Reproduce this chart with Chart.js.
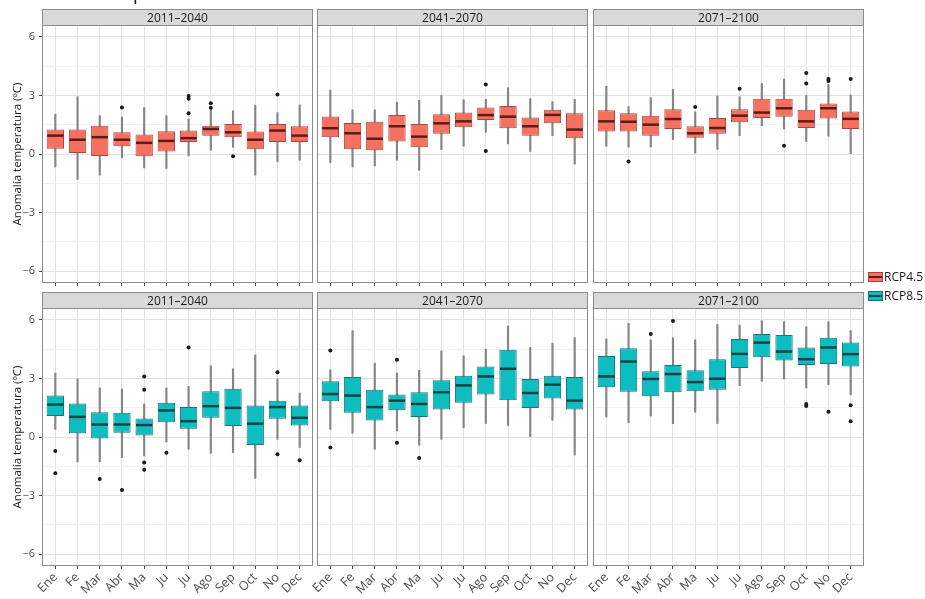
<!DOCTYPE html>
<html>
<head>
<meta charset="utf-8">
<script src="https://cdn.jsdelivr.net/npm/chart.js@4.4.1/dist/chart.umd.min.js"></script>
<style>
  body { margin: 0; width: 925px; height: 599px; overflow: hidden; position: relative; background: #fff; font-family: 'Open Sans', sans-serif; }
  canvas { position: absolute; }
  .strip { position: absolute; box-sizing: border-box; background: #d9d9d9; border: 1px solid #8c8c8c; border-bottom: none;
           color: #1a1a1a; font-size: 12px; line-height: 15px; text-align: center; }
  .ytitle { position: absolute; width: 200px; margin-left: -100px; text-align: center; font-size: 11.5px; color: #1a1a1a;
            transform: rotate(-90deg); white-space: nowrap; line-height: 14px; margin-top: -7px; }
  .key { position: absolute; left: 868px; width: 15px; height: 10px; box-sizing: border-box; border: 1px solid; }
  .key i { position: absolute; left: 0; right: 0; top: 3px; height: 2px; }
  .keytxt { position: absolute; left: 884px; font-size: 12px; color: #1a1a1a; line-height: 14px; }
  .cut { position: absolute; left: 133px; top: -16px; font-size: 18px; line-height: 18px; color: #000; }
</style>
</head>
<body>
<div class="cut">p</div>
<script>
// ============================================================
// Data: [lower whisker, Q1, median, Q3, upper whisker]
// ============================================================
const MONTHS = ['Ene', 'Fe', 'Mar', 'Abr', 'Ma', 'Ju', 'Ju', 'Ago', 'Sep', 'Oct', 'No', 'Dec'];
const PERIODS = ['2011–2040', '2041–2070', '2071–2100'];
const SCENARIOS = ['RCP4.5', 'RCP8.5'];
const Y_TICKS = [-6, -3, 0, 3, 6];
const Y_LABELS = ['−6', '−3', '0', '3', '6'];
const Y_MINOR = [-4.5, -1.5, 1.5, 4.5];

const RCP45_2011 = [
  [-0.66, 0.27, 0.94, 1.25, 2.04], [-1.30, 0.05, 0.73, 1.25, 2.93], [-1.08, -0.10, 0.86, 1.45, 1.96],
  [-0.19, 0.40, 0.73, 1.11, 1.90], [-0.71, -0.12, 0.57, 1.00, 2.38], [-0.74, 0.13, 0.67, 1.16, 1.96],
  [-0.10, 0.61, 0.81, 1.20, 1.79], [0.19, 0.94, 1.28, 1.45, 2.29], [0.35, 0.86, 1.11, 1.53, 2.21],
  [-1.08, 0.24, 0.73, 1.15, 2.50], [-0.40, 0.61, 1.20, 1.53, 2.12], [-0.32, 0.61, 0.94, 1.42, 2.51],
];
const RCP45_2011_OUT = [[3, 2.38], [6, 2.97], [6, 2.83], [6, 2.09], [7, 2.60], [7, 2.36], [8, -0.12], [10, 3.05]];

const RCP45_2041 = [
  [-0.44, 0.86, 1.32, 1.92, 3.27], [-0.66, 0.24, 1.06, 1.59, 2.26], [-0.61, 0.19, 0.78, 1.65, 2.26],
  [-0.32, 0.64, 1.42, 2.00, 2.66], [-0.83, 0.35, 0.89, 1.53, 2.75], [0.22, 1.03, 1.57, 2.04, 3.00],
  [0.40, 1.37, 1.67, 2.12, 2.77], [1.11, 1.74, 1.99, 2.38, 2.80], [0.52, 1.32, 1.91, 2.46, 3.39],
  [0.13, 0.94, 1.42, 1.87, 2.83], [0.94, 1.57, 2.00, 2.26, 2.68], [-0.52, 0.81, 1.25, 2.09, 2.80],
];
const RCP45_2041_OUT = [[7, 3.56], [7, 0.15]];

const RCP45_2071 = [
  [0.40, 1.15, 1.67, 2.24, 3.47], [0.35, 1.15, 1.65, 2.09, 2.43], [0.35, 0.94, 1.50, 1.96, 2.88],
  [0.74, 1.28, 1.79, 2.29, 3.31], [0.05, 0.83, 1.06, 1.42, 2.16], [0.24, 1.03, 1.33, 1.84, 2.97],
  [0.94, 1.62, 1.96, 2.29, 2.93], [1.45, 1.84, 2.12, 2.83, 3.61], [1.28, 1.91, 2.34, 2.83, 3.84],
  [0.64, 1.33, 1.67, 2.26, 3.00], [0.91, 1.82, 2.34, 2.58, 3.56], [0.02, 1.28, 1.80, 2.18, 3.02],
];
const RCP45_2071_OUT = [[1, -0.39], [4, 2.41], [6, 3.34], [8, 0.42], [9, 4.15], [9, 3.61], [10, 3.84], [10, 3.73], [11, 3.84]];

const RCP85_2011 = [
  [0.39, 1.07, 1.66, 2.12, 3.27], [-1.27, 0.19, 1.03, 1.71, 2.97], [-1.27, -0.08, 0.64, 1.27, 2.51],
  [-1.05, 0.22, 0.64, 1.24, 2.46], [-0.97, 0.08, 0.61, 0.95, 1.69], [-0.25, 0.76, 1.36, 1.75, 2.51],
  [-0.63, 0.42, 0.81, 1.53, 2.59], [-0.83, 0.98, 1.58, 2.34, 3.64], [-0.80, 0.56, 1.49, 2.47, 3.49],
  [-2.12, -0.41, 0.68, 1.61, 4.20], [-0.12, 0.93, 1.53, 1.86, 2.97], [-0.54, 0.59, 0.98, 1.61, 2.25],
];
const RCP85_2011_OUT = [[0, -0.71], [0, -1.86], [2, -2.15], [3, -2.71], [4, 3.10], [4, 2.42], [4, -1.31], [4, -1.68],
  [5, -0.80], [6, 4.58], [10, 3.31], [10, -0.88], [11, -1.19]];

const RCP85_2041 = [
  [0.39, 1.83, 2.20, 2.85, 3.44], [0.19, 1.24, 2.12, 3.07, 5.44], [-0.63, 0.85, 1.53, 2.42, 3.78],
  [0.31, 1.37, 1.86, 2.17, 3.27], [-0.42, 1.02, 1.69, 2.29, 3.41], [-0.12, 1.41, 2.29, 2.90, 4.41],
  [0.47, 1.75, 2.64, 3.14, 4.15], [0.69, 2.17, 3.10, 3.61, 4.49], [0.59, 1.88, 3.49, 4.46, 5.68],
  [0.02, 1.49, 2.25, 2.97, 4.58], [0.86, 1.97, 2.68, 3.14, 4.80], [-0.92, 1.41, 1.86, 3.07, 5.08],
];
const RCP85_2041_OUT = [[0, 4.42], [0, -0.54], [3, 3.95], [3, -0.29], [4, -1.08]];

const RCP85_2071 = [
  [1.02, 2.54, 3.10, 4.15, 5.02], [0.73, 2.31, 3.86, 4.54, 5.81], [1.07, 2.08, 2.97, 3.36, 4.97],
  [0.68, 2.29, 3.22, 3.69, 5.08], [1.27, 2.34, 2.81, 3.41, 4.97], [0.69, 2.42, 2.98, 3.98, 5.76],
  [2.63, 3.53, 4.25, 5.02, 5.73], [2.85, 4.08, 4.83, 5.27, 5.95], [2.97, 3.92, 4.37, 5.22, 5.90],
  [2.51, 3.69, 3.98, 4.58, 5.64], [2.68, 3.73, 4.58, 5.08, 5.90], [2.17, 3.61, 4.24, 4.83, 5.44],
];
const RCP85_2071_OUT = [[2, 5.27], [3, 5.93], [9, 1.69], [9, 1.58], [10, 1.29], [11, 1.63], [11, 0.81]];

const PANELS = [
  { row: 0, col: 0, scen: 0, stats: RCP45_2011, out: RCP45_2011_OUT },
  { row: 0, col: 1, scen: 0, stats: RCP45_2041, out: RCP45_2041_OUT },
  { row: 0, col: 2, scen: 0, stats: RCP45_2071, out: RCP45_2071_OUT },
  { row: 1, col: 0, scen: 1, stats: RCP85_2011, out: RCP85_2011_OUT },
  { row: 1, col: 1, scen: 1, stats: RCP85_2041, out: RCP85_2041_OUT },
  { row: 1, col: 2, scen: 1, stats: RCP85_2071, out: RCP85_2071_OUT },
];

// ============================================================
// Look & layout
// ============================================================
const FILL   = ['#F6705F', '#0DBDC0'];
const EDGE   = ['#A8463E', '#17777A'];
const MEDIAN = ['#5E1C16', '#0D4546'];
const WHISKER = '#858585';
const GRID_MAJOR = '#e3e3e3';
const GRID_MINOR = '#f2f2f2';
const TEXT_GREY = '#4d4d4d';

const COL_X = [42, 317, 593];
const ROW_Y = [25, 308];
const PLOT_W = 271, PLOT_H = 258;
const AXIS_W = 42, PAD_TOP = 14, PAD_RIGHT = 10;

Chart.defaults.font.family = "'Open Sans', sans-serif";
Chart.defaults.animation = false;

// medians + panel frame, drawn with the chart's own scales
function boxExtras(p) {
  return {
    id: 'boxExtras',
    afterDatasetsDraw(chart) {
      const ctx = chart.ctx;
      const y = chart.scales.y;
      const meta = chart.getDatasetMeta(1);
      ctx.save();
      ctx.strokeStyle = MEDIAN[p.scen];
      ctx.lineWidth = 2.5;
      meta.data.forEach((el, i) => {
        const py = y.getPixelForValue(p.stats[i][2]);
        ctx.beginPath();
        ctx.moveTo(el.x - el.width / 2 + 0.5, py);
        ctx.lineTo(el.x + el.width / 2 - 0.5, py);
        ctx.stroke();
      });
      ctx.restore();
    },
    afterDraw(chart) {
      const a = chart.chartArea, ctx = chart.ctx;
      ctx.save();
      ctx.strokeStyle = '#8c8c8c';
      ctx.lineWidth = 1;
      ctx.strokeRect(a.left + 0.5, a.top + 0.5, a.right - a.left - 1, a.bottom - a.top - 1);
      ctx.restore();
    },
  };
}

function renderPanel(p) {
  const bottomRow = p.row === 1;
  const firstCol = p.col === 0;
  const xh = bottomRow ? 46 : 12;

  const cv = document.createElement('canvas');
  cv.width = AXIS_W + PLOT_W + PAD_RIGHT;
  cv.height = PAD_TOP + PLOT_H + xh;
  cv.style.width = cv.width + 'px';
  cv.style.height = cv.height + 'px';
  cv.style.left = (COL_X[p.col] - AXIS_W) + 'px';
  cv.style.top = (ROW_Y[p.row] - PAD_TOP) + 'px';
  document.body.appendChild(cv);

  const strip = document.createElement('div');
  strip.className = 'strip';
  strip.style.left = COL_X[p.col] + 'px';
  strip.style.top = (ROW_Y[p.row] - 16) + 'px';
  strip.style.width = PLOT_W + 'px';
  strip.style.height = '16px';
  strip.textContent = PERIODS[p.col];
  document.body.appendChild(strip);

  new Chart(cv, {
    type: 'bar',
    data: {
      datasets: [
        {
          type: 'scatter',
          order: 1,
          data: p.out.map(o => ({ x: o[0], y: o[1] })),
          pointRadius: 2,
          pointBackgroundColor: '#1a1a1a',
          pointBorderWidth: 0,
        },
        {
          order: 2,
          grouped: false,
          data: p.stats.map((s, i) => ({ x: i, y: [s[1], s[3]] })),
          backgroundColor: FILL[p.scen],
          borderColor: EDGE[p.scen],
          borderWidth: 1,
          borderSkipped: false,
          barPercentage: 0.78,
          categoryPercentage: 1,
        },
        {
          order: 3,
          grouped: false,
          data: p.stats.map((s, i) => ({ x: i, y: [s[0], s[4]] })),
          backgroundColor: WHISKER,
          barThickness: 1.5,
        },
      ],
    },
    options: {
      responsive: false,
      maintainAspectRatio: false,
      events: [],
      layout: { padding: { top: PAD_TOP, right: PAD_RIGHT, left: 0, bottom: 0 } },
      plugins: { legend: { display: false }, tooltip: { enabled: false } },
      scales: {
        x: {
          type: 'linear',
          offset: false,
          min: -0.6,
          max: MONTHS.length - 0.4,
          afterBuildTicks: s => { s.ticks = MONTHS.map((_, i) => ({ value: i })); },
          afterFit: s => { s.height = xh; },
          border: { display: false },
          grid: { offset: false, color: GRID_MAJOR, tickColor: TEXT_GREY, tickLength: 3 },
          ticks: {
            display: bottomRow,
            autoSkip: false,
            minRotation: 45,
            maxRotation: 45,
            padding: 1,
            color: TEXT_GREY,
            font: { size: 12.5 },
            callback: v => MONTHS[v],
          },
        },
        y: {
          min: -6.6,
          max: 6.6,
          afterBuildTicks: s => {
            s.ticks = [...Y_TICKS, ...Y_MINOR].sort((a, b) => a - b).map(v => ({ value: v }));
          },
          afterFit: s => { s.width = AXIS_W; },
          border: { display: false },
          grid: {
            color: c => Y_TICKS.includes(c.tick.value) ? GRID_MAJOR : GRID_MINOR,
            tickColor: c => (firstCol && Y_TICKS.includes(c.tick.value)) ? TEXT_GREY : 'rgba(0,0,0,0)',
            tickLength: 3,
          },
          ticks: {
            display: firstCol,
            padding: 4,
            color: TEXT_GREY,
            font: { size: 11 },
            callback: v => { const k = Y_TICKS.indexOf(v); return k < 0 ? '' : Y_LABELS[k]; },
          },
        },
      },
    },
    plugins: [boxExtras(p)],
  });
}

PANELS.forEach(renderPanel);

// y axis titles
ROW_Y.forEach(y0 => {
  const t = document.createElement('div');
  t.className = 'ytitle';
  t.style.left = '17px';
  t.style.top = (y0 + PLOT_H / 2) + 'px';
  t.textContent = 'Anomalía temperatura (ºC)';
  document.body.appendChild(t);
});

// legend
SCENARIOS.forEach((name, k) => {
  const top = 272 + k * 19;
  const key = document.createElement('div');
  key.className = 'key';
  key.style.top = top + 'px';
  key.style.background = FILL[k];
  key.style.borderColor = EDGE[k];
  const bar = document.createElement('i');
  bar.style.background = MEDIAN[k];
  key.appendChild(bar);
  document.body.appendChild(key);
  const txt = document.createElement('div');
  txt.className = 'keytxt';
  txt.style.top = (top - 2) + 'px';
  txt.textContent = name;
  document.body.appendChild(txt);
});
</script>
</body>
</html>
